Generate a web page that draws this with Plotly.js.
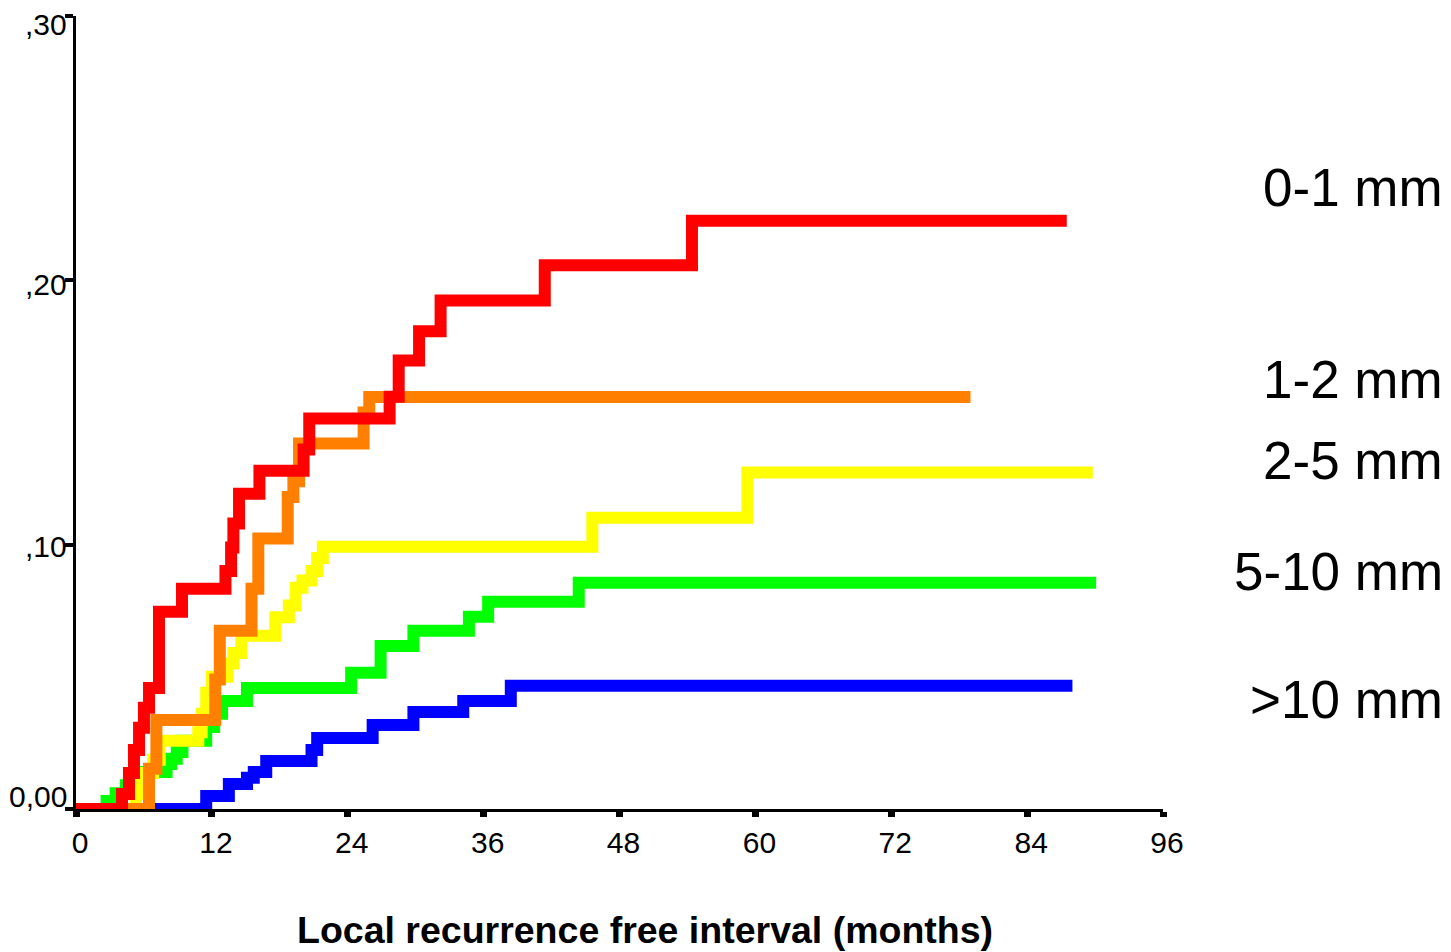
<!DOCTYPE html>
<html><head><meta charset="utf-8">
<script src="https://cdn.plot.ly/plotly-3.0.1.min.js"></script>
<style>html,body{margin:0;padding:0;background:#fff;}#chart{width:1451px;height:952px;}</style>
</head><body><div id="chart"></div>
<script>
// Cumulative incidence of local recurrence by margin width group
const groupNames = ['>10 mm', '5-10 mm', '2-5 mm', '1-2 mm', '0-1 mm'];
const groupColors = ['#0000FF', '#00FF00', '#FFFF00', '#FF8000', '#FF0000'];

const months_gt10 = [0, 11.5, 13.5, 15.1, 15.7, 16.8, 20.8, 21.3, 26.2, 29.8, 34.2, 38.4, 88.0];
const cuminc_gt10 = [0, 0.0049, 0.0095, 0.0118, 0.014, 0.0182, 0.0223, 0.0269, 0.0318, 0.0367, 0.0409, 0.0466, 0.0466];

const months_5to10 = [0, 2.7, 3.5, 4.4, 5.3, 6.2, 8.0, 8.4, 8.9, 9.4, 11.5, 12.2, 12.9, 15.1, 24.3, 26.9, 29.8, 34.7, 36.4, 44.4, 90.1];
const cuminc_5to10 = [0, 0.003, 0.006, 0.009, 0.012, 0.014, 0.017, 0.019, 0.0216, 0.0258, 0.031, 0.036, 0.0409, 0.0458, 0.0515, 0.0617, 0.0674, 0.0727, 0.0784, 0.0856, 0.0856];

const months_2to5 = [0, 5.3, 5.75, 6.8, 7.4, 10.8, 11.1, 11.5, 12.0, 13.4, 13.9, 14.6, 17.6, 18.8, 19.4, 20.0, 20.8, 21.3, 21.8, 45.6, 59.3, 89.8];
const cuminc_2to5 = [0, 0.0057, 0.0136, 0.0186, 0.0258, 0.029, 0.036, 0.044, 0.050, 0.055, 0.059, 0.0655, 0.0725, 0.077, 0.0837, 0.0864, 0.090, 0.095, 0.0992, 0.1102, 0.1273, 0.1273];

const months_1to2 = [0, 6.45, 7.1, 12.3, 12.7, 15.5, 16.1, 18.7, 19.2, 19.7, 25.4, 25.9, 79.0];
const cuminc_1to2 = [0, 0.0152, 0.0337, 0.049, 0.0674, 0.0833, 0.1023, 0.118, 0.124, 0.1383, 0.150, 0.1559, 0.1559];

const months_0to1 = [0, 4.06, 4.68, 5.12, 5.57, 6.0, 6.45, 7.33, 9.36, 13.2, 13.7, 13.9, 14.4, 16.2, 20.1, 20.6, 27.7, 28.5, 30.3, 32.2, 41.4, 54.4, 87.5];
const cuminc_0to1 = [0, 0.0057, 0.0136, 0.0223, 0.0307, 0.0383, 0.0458, 0.0746, 0.0833, 0.090, 0.0989, 0.108, 0.1193, 0.128, 0.136, 0.1477, 0.156, 0.1697, 0.1807, 0.1924, 0.2057, 0.2225, 0.2225];

const xTickVals = [0, 12, 24, 36, 48, 60, 72, 84, 96];
const yTickVals = [0, 0.10, 0.20, 0.30];
const yTickText = ['0,00', ',10', ',20', ',30'];
const xAxisTitle = 'Local recurrence free interval (months)';

const seriesX = [months_gt10, months_5to10, months_2to5, months_1to2, months_0to1];
const seriesY = [cuminc_gt10, cuminc_5to10, cuminc_2to5, cuminc_1to2, cuminc_0to1];

const traces = seriesX.map((xs, i) => ({
  type: 'scatter', mode: 'lines', x: xs, y: seriesY[i], name: groupNames[i],
  line: {shape: 'hv', color: groupColors[i], width: 12},
  hoverinfo: 'skip'
}));

const FONT = 'Liberation Sans, Arial, Helvetica, sans-serif';
const labelY = [0.0413, 0.0898, 0.1318, 0.1625, 0.2352];
const yLabelShift = [13, -2, -4, -8];

const annotations = [];
groupNames.forEach((n, i) => annotations.push({
  text: n, xref: 'paper', yref: 'y', x: 1.2595, y: labelY[i],
  xanchor: 'right', yanchor: 'middle', showarrow: false,
  font: {family: FONT, size: 53, color: '#000'}
}));
yTickVals.forEach((v, i) => annotations.push({
  text: yTickText[i], xref: 'paper', yref: 'y', x: 0, y: v, xshift: -7, yshift: yLabelShift[i],
  xanchor: 'right', yanchor: 'middle', showarrow: false,
  font: {family: FONT, size: 30, color: '#000'}
}));
annotations.push({
  text: '<b>' + xAxisTitle + '</b>', xref: 'paper', yref: 'paper', x: 0.5235, y: -0.1526,
  xanchor: 'center', yanchor: 'middle', showarrow: false,
  font: {family: FONT, size: 37.5, color: '#000'}
});

const layout = {
  width: 1451, height: 952,
  margin: {l: 76, r: 288, t: 16, b: 143, pad: 0},
  paper_bgcolor: '#fff', plot_bgcolor: '#fff',
  showlegend: false,
  xaxis: {
    range: [0, 96], tickvals: xTickVals, ticktext: xTickVals.map(String),
    showline: true, linecolor: '#000', linewidth: 3,
    ticks: 'outside', ticklen: 5, tickwidth: 7, tickcolor: '#000',
    ticklabelshift: 4,
    tickfont: {family: FONT, size: 30, color: '#000'},
    showgrid: false, zeroline: false, fixedrange: true
  },
  yaxis: {
    range: [0, 0.30], tickvals: yTickVals, showticklabels: false,
    showline: true, linecolor: '#000', linewidth: 3,
    ticks: 'outside', ticklen: 8, tickwidth: 4, tickcolor: '#000',
    showgrid: false, zeroline: false, fixedrange: true
  },
  annotations: annotations
};

Plotly.newPlot('chart', traces, layout, {displayModeBar: false, staticPlot: true});
</script>
</body></html>
